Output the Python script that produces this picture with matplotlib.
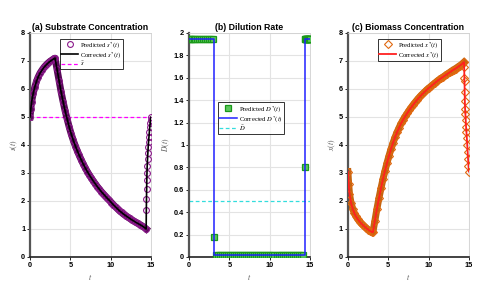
import numpy as np
import matplotlib
matplotlib.use("Agg")
import matplotlib.pyplot as plt
from matplotlib.ticker import FuncFormatter

plt.rcParams['mathtext.fontset'] = 'stix'

# time grid ---------------------------------------------------------
t = [0, 0.1, 0.2, 0.4, 0.6, 0.8, 1.0, 1.25, 1.5, 1.75, 2.0, 2.25, 2.5, 2.75, 3.0, 3.1,
     3.35, 3.6, 3.85, 4.1, 4.35, 4.6, 4.85, 5.1, 5.35, 5.6, 5.85, 6.1, 6.35, 6.6, 6.85,
     7.1, 7.35, 7.6, 7.85, 8.1, 8.35, 8.6, 8.85, 9.1, 9.35, 9.6, 9.85, 10.1, 10.35, 10.6,
     10.85, 11.1, 11.35, 11.6, 11.85, 12.1, 12.35, 12.6, 12.85, 13.1, 13.35, 13.6, 13.85,
     14.1, 14.4,
     14.42, 14.44, 14.46, 14.48, 14.5, 14.53, 14.57, 14.61, 14.65, 14.7, 14.75, 14.8,
     14.85, 14.9, 14.95, 15.0]

# substrate s*(t)
s_pred = [5.0, 5.3, 5.55, 5.85, 6.08, 6.27, 6.42, 6.57, 6.68, 6.78, 6.86, 6.93, 6.99, 7.04, 7.09, 7.1,
          6.7, 6.3, 5.9, 5.55, 5.22, 4.93, 4.65, 4.4, 4.18, 3.98, 3.8, 3.63, 3.47, 3.32, 3.18,
          3.05, 2.93, 2.82, 2.71, 2.61, 2.51, 2.42, 2.33, 2.25, 2.17, 2.09, 2.02, 1.94, 1.86, 1.79,
          1.72, 1.65, 1.59, 1.53, 1.48, 1.43, 1.38, 1.33, 1.29, 1.24, 1.2, 1.16, 1.12,
          1.07, 1.0,
          1.68, 2.07, 2.42, 2.75, 3.0, 3.25, 3.5, 3.72, 3.92, 4.12, 4.3, 4.48,
          4.64, 4.78, 4.9, 5.0]
s_corr = s_pred
s_bar = 5.0

# dilution rate D*(t)
D_pred = [1.95] * 15 + [0.18] + [0.02] * 44 + [0.8] + [1.95] * 16
D_corr = [1.95] * 15 + [0.02] * 45 + [1.95] * 17
D_bar = 0.5

# biomass x*(t)
x_pred = [3.05, 2.6, 2.25, 1.92, 1.72, 1.56, 1.45, 1.34, 1.25, 1.17, 1.1, 1.04, 0.98, 0.93, 0.89, 0.88,
          1.3, 1.72, 2.1, 2.45, 2.78, 3.08, 3.36, 3.62, 3.86, 4.08, 4.28, 4.46, 4.62, 4.77, 4.9,
          5.02, 5.13, 5.24, 5.34, 5.44, 5.53, 5.62, 5.7, 5.78, 5.85, 5.92, 5.99, 6.05, 6.11, 6.17,
          6.23, 6.29, 6.34, 6.39, 6.44, 6.49, 6.54, 6.59, 6.64, 6.69, 6.73, 6.78, 6.83,
          6.88, 6.96,
          6.8, 6.4, 6.28, 5.88, 5.58, 5.3, 5.1, 4.9, 4.66, 4.45, 4.25, 4.0,
          3.75, 3.5, 3.25, 3.05]
x_corr = x_pred


def style_axes(ax, title, ylabel):
    ax.set_xlim(0, 15)
    ax.set_xticks([0, 5, 10, 15])
    ax.grid(True, color='#e3e3e3', lw=0.8)
    ax.set_axisbelow(True)
    for side in ['top', 'right']:
        ax.spines[side].set_color('#d0d0d0')
        ax.spines[side].set_linewidth(0.6)
    ax.spines['left'].set_color('#555555')
    ax.spines['left'].set_linewidth(1.6)
    ax.spines['bottom'].set_color('#222222')
    ax.spines['bottom'].set_linewidth(1.2)
    ax.tick_params(labelsize=5.3, length=2, width=0.6, pad=1.5)
    for lab in ax.get_xticklabels() + ax.get_yticklabels():
        lab.set_fontweight('bold')
        lab.set_family('Liberation Sans')
    ax.set_title(title, fontsize=6.3, fontweight='bold', family='Liberation Sans', pad=2)
    ax.set_xlabel('$t$', fontsize=5.5, labelpad=2, color='#555555')
    ax.set_ylabel(ylabel, fontsize=5.5, labelpad=1, color='#555555')


fig = plt.figure(figsize=(5.02, 2.83), dpi=100)
w, h, b = 0.241, 0.7915, 0.0919
ax1 = fig.add_axes([0.0598, b, w, h])
ax2 = fig.add_axes([0.3765, b, w, h])
ax3 = fig.add_axes([0.693, b, w, h])

leg_kw = dict(frameon=True, fancybox=False, edgecolor='black',
              borderpad=0.2, labelspacing=0.0, handlelength=2.6, handletextpad=0.3,
              borderaxespad=0.0, prop={'family': 'Liberation Serif', 'size': 4.8})

# (a) substrate -----------------------------------------------------
ax1.plot(t[:61], s_pred[:61], color='#5a0a5a', lw=5, zorder=2)
ax1.plot(t, s_pred, 'o', color='#8b1a8b', mfc='none', ms=4.2, mew=0.8,
         label='Predicted $s^{*}(t)$', zorder=3)
ax1.plot(t, s_corr, color='black', lw=1.2, label='Corrected $s^{*}(t)$', zorder=4)
ax1.axhline(s_bar, color='#ff00ff', ls=(0, (3, 2)), lw=0.9, label=r'$\bar{s}$', zorder=1)
ax1.set_ylim(0, 8)
style_axes(ax1, '(a) Substrate Concentration', '$s(t)$')
l1 = ax1.legend(loc='upper left', bbox_to_anchor=(0.245, 0.975), **leg_kw)
l1.get_frame().set_linewidth(0.7)

# (b) dilution ------------------------------------------------------
ax2.plot(t, D_pred, 's', color='#1a991a', mfc='#5cc75c', ms=4.0, mew=0.9,
         label='Predicted $D^{*}(t)$', zorder=3)
ax2.plot(t, D_corr, color='#2020ff', lw=1.1, drawstyle='steps-post',
         label='Corrected $D^{*}(t)$', zorder=4)
ax2.axhline(D_bar, color='#33dddd', ls=(0, (3, 2)), lw=0.9, label=r'$\bar{D}$', zorder=1)
ax2.set_ylim(0, 2)
ax2.set_yticks(np.arange(0, 2.01, 0.2))
ax2.yaxis.set_major_formatter(FuncFormatter(lambda v, p: '%g' % round(v, 1)))
style_axes(ax2, '(b) Dilution Rate', '$D(t)$')
l2 = ax2.legend(loc='upper left', bbox_to_anchor=(0.24, 0.69), **leg_kw)
l2.get_frame().set_linewidth(0.7)

# (c) biomass -------------------------------------------------------
ax3.plot(t[:61], x_pred[:61], color='#c46410', lw=5, zorder=2)
ax3.plot(t, x_pred, 'D', color='#e0680f', mfc='none', ms=3.6, mew=0.8,
         label='Predicted $x^{*}(t)$', zorder=3)
ax3.plot(t, x_corr, color='#ff2020', lw=1.3, label='Corrected $x^{*}(t)$', zorder=4)
ax3.set_ylim(0, 8)
style_axes(ax3, '(c) Biomass Concentration', '$x(t)$')
l3 = ax3.legend(loc='upper left', bbox_to_anchor=(0.245, 0.975), **leg_kw)
l3.get_frame().set_linewidth(0.7)

fig.savefig('out.png', dpi=100)
